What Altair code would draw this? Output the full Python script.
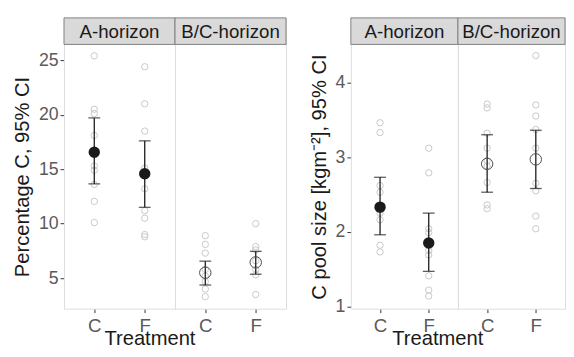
import altair as alt
import pandas as pd

# ---------------- data ----------------
treatments = ["C", "F"]
horizons = ["A-horizon", "B/C-horizon"]

# Percentage C, individual samples
pct_A_C = [25.4, 20.5, 20.1, 18.1, 15.3, 14.9, 13.6, 12.05, 10.1]
pct_A_F = [24.4, 21.0, 18.5, 15.1, 13.2, 11.2, 10.5, 9.0, 8.8]
pct_BC_C = [8.9, 8.1, 7.3, 5.8, 5.2, 4.7, 4.0, 3.3]
pct_BC_F = [10.0, 7.9, 7.6, 6.6, 5.8, 5.3, 3.5]
# Percentage C, mean and 95% CI  (order: A-C, A-F, BC-C, BC-F)
pct_mean = [16.55, 14.58, 5.5, 6.45]
pct_lo = [13.65, 11.5, 4.37, 5.36]
pct_hi = [19.7, 17.6, 6.56, 7.46]

# C pool size, individual samples
pool_A_C = [3.46, 3.33, 2.62, 2.53, 2.25, 2.16, 1.82, 1.73]
pool_A_F = [3.12, 2.79, 2.04, 1.99, 1.75, 1.69, 1.41, 1.22, 1.14]
pool_BC_C = [3.71, 3.66, 3.32, 3.12, 2.95, 2.88, 2.66, 2.36, 2.31]
pool_BC_F = [4.36, 3.70, 3.55, 3.37, 3.12, 2.65, 2.55, 2.21, 2.04]
pool_mean = [2.33, 1.85, 2.91, 2.97]
pool_lo = [1.96, 1.47, 2.53, 2.58]
pool_hi = [2.73, 2.25, 3.30, 3.36]

pct_ticks = [5, 10, 15, 20, 25]
pool_ticks = [1, 2, 3, 4]

# ---------------- build one table per chart ----------------
KEYS = [("A-horizon", "C"), ("A-horizon", "F"), ("B/C-horizon", "C"), ("B/C-horizon", "F")]


def build_table(a_c, a_f, bc_c, bc_f, mean, lo, hi):
    rows = []
    for (h, t), vals in zip(KEYS, [a_c, a_f, bc_c, bc_f]):
        for v in vals:
            rows.append({"kind": "pt", "Horizon": h, "Treatment": t, "value": v})
    for (h, t), m, l, u in zip(KEYS, mean, lo, hi):
        rows.append({"kind": "sum", "Horizon": h, "Treatment": t, "mean": m, "lo": l, "hi": u})
    for h in horizons:
        rows.append({"kind": "strip", "Horizon": h})
    return pd.DataFrame(rows)


pct_df = build_table(pct_A_C, pct_A_F, pct_BC_C, pct_BC_F, pct_mean, pct_lo, pct_hi)
pool_df = build_table(pool_A_C, pool_A_F, pool_BC_C, pool_BC_F, pool_mean, pool_lo, pool_hi)

# ---------------- styling ----------------
H = 296          # panel height incl. strip
STRIP = 27       # strip height
FONT = "Liberation Sans"
GREY_TXT = "#5a5a5a"
DARK = "#1a1a1a"


def chart_for(df, domain, ticks, ytitle, W, title_offset=-6):
    yscale = alt.Scale(domain=domain, range=[H, STRIP], nice=False, zero=False)
    xscale = alt.Scale(type="point", domain=treatments, padding=0.6)
    xaxis = alt.Axis(title=None, labelAngle=0, labelFontSize=19, labelColor=GREY_TXT,
                     tickColor="#333333", tickSize=4, domain=False, grid=False,
                     labelPadding=4)
    yaxis = alt.Axis(title=ytitle, values=ticks, labelFontSize=18, labelColor=GREY_TXT,
                     tickColor="#333333", tickSize=4, domain=False, grid=False,
                     titleFontSize=20.5, titleFontWeight="normal", titleColor=DARK,
                     titlePadding=6, labelPadding=2)
    X = alt.X("Treatment:N", scale=xscale, axis=xaxis)

    def Y(field):
        return alt.Y(field, type="quantitative", scale=yscale, axis=yaxis)

    base = alt.Chart()
    pts = base.transform_filter("datum.kind == 'pt'")
    summ = base.transform_filter("datum.kind == 'sum'")
    strip_base = base.transform_filter("datum.kind == 'strip'")

    raw = pts.mark_point(shape="circle", filled=False, size=42, color="#c8c8c8",
                         strokeWidth=1, opacity=1).encode(x=X, y=Y("value"))
    bar = summ.mark_rule(color=DARK, strokeWidth=1.3).encode(x=X, y=Y("lo"), y2="hi:Q")
    cap_lo = summ.mark_tick(color=DARK, thickness=1.3, size=12).encode(x=X, y=Y("lo"))
    cap_hi = summ.mark_tick(color=DARK, thickness=1.3, size=12).encode(x=X, y=Y("hi"))
    mean_a = summ.transform_filter("datum.Horizon == 'A-horizon'").mark_point(
        shape="circle", filled=True, size=135, color=DARK, opacity=1).encode(x=X, y=Y("mean"))
    mean_b = summ.transform_filter("datum.Horizon != 'A-horizon'").mark_point(
        shape="circle", filled=False, size=135, color="#4d4d4d", strokeWidth=1,
        opacity=1).encode(x=X, y=Y("mean"))
    strip = strip_base.mark_rect(fill="#d9d9d9", stroke="#808080", strokeWidth=1).encode(
        x=alt.value(0), x2=alt.value(W), y=alt.value(0), y2=alt.value(STRIP))
    strip_txt = strip_base.mark_text(fontSize=19, color=DARK, baseline="middle",
                                     align="center").encode(
        x=alt.value(W / 2), y=alt.value(STRIP / 2 + 1), text="Horizon:N")

    layered = alt.layer(raw, bar, cap_lo, cap_hi, mean_a, mean_b, strip, strip_txt,
                        data=df).properties(width=W, height=H)
    return layered.facet(
        column=alt.Column("Horizon:N", sort=horizons, header=None, title=None),
        spacing=0, bounds="flush",
    ).properties(
        title=alt.TitleParams("Treatment", orient="bottom", anchor="middle", fontSize=20.5,
                              fontWeight="normal", color=DARK, offset=title_offset,
                              font=FONT))


left = chart_for(pct_df, [2.2, 26.45], pct_ticks, "Percentage C, 95% CI", 113)
right = chart_for(pool_df, [0.97, 4.51], pool_ticks, "C pool size [kgm⁻²], 95% CI", 109)

chart = alt.hconcat(left, right, spacing=22).resolve_scale(
    x="independent", y="independent").properties(
    padding={"left": 4, "top": 6, "right": 0, "bottom": -3},
    background="white",
).configure_view(stroke="#808080", strokeWidth=1).configure(font=FONT).configure_axis(
    labelFont=FONT, titleFont=FONT)

chart.save("out.html", embed_options={"renderer": "svg", "actions": False})
